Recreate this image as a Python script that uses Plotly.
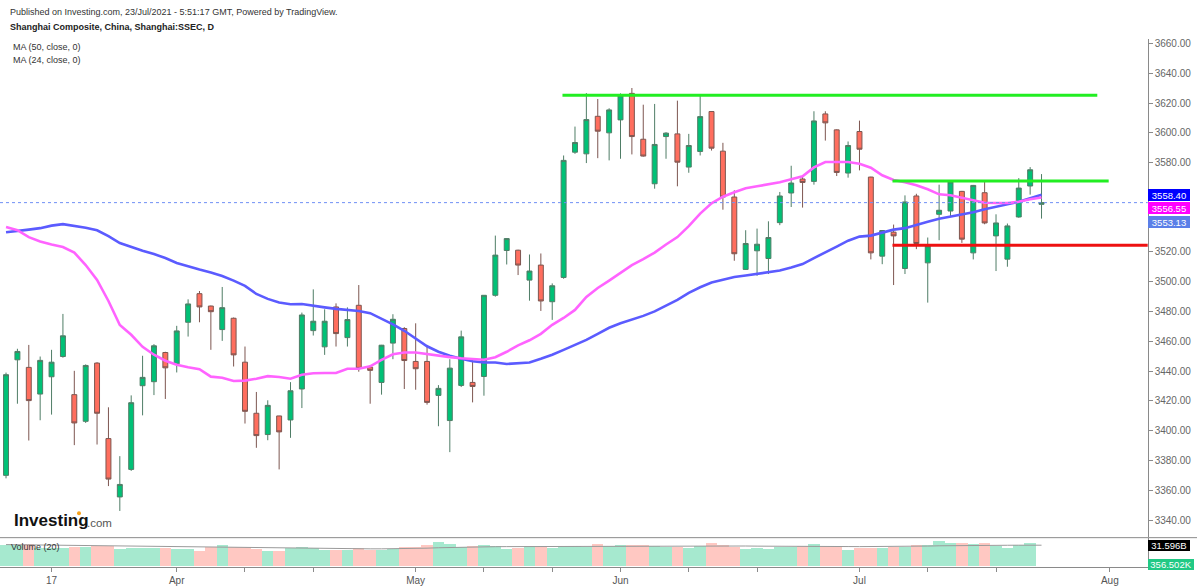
import plotly.graph_objects as go

# ==================================================
# Data (daily bars 11 Mar -> 23 Jul 2021)
# ==================================================

opens = [
    3370.0, 3447.6, 3442.5, 3424.6, 3436.2, 3449.8, 3424.2, 3406.3, 3445.4, 3394.7,
    3355.5, 3374.0, 3430.2, 3432.9, 3452.5, 3444.9, 3472.8, 3492.0, 3483.7, 3467.9,
    3475.5, 3446.0, 3411.7, 3397.4, 3409.9, 3407.2, 3428.0, 3467.2, 3456.3, 3483.1,
    3462.5, 3484.2, 3442.7, 3432.4, 3458.8, 3468.6, 3446.5, 3446.5, 3423.7, 3406.8,
    3430.4, 3432.4, 3436.4, 3490.9, 3521.0, 3521.2, 3501.1, 3511.2, 3486.6, 3502.9,
    3587.0, 3585.9, 3611.1, 3600.0, 3608.7, 3626.5, 3595.7, 3565.8, 3597.5, 3599.3,
    3577.0, 3587.5, 3614.3, 3587.7, 3556.9, 3508.3, 3520.8, 3515.6, 3539.7, 3559.6,
    3569.0, 3567.4, 3612.7, 3602.0, 3573.0, 3600.9, 3570.3, 3517.2, 3533.3, 3508.9,
    3557.6, 3512.7, 3545.3, 3547.5, 3560.7, 3519.4, 3559.8, 3530.8, 3515.2, 3543.5,
    3564.3, 3552.0,
]
highs = [
    3439.0, 3455.0, 3457.6, 3449.8, 3454.3, 3478.4, 3440.2, 3444.5, 3446.0, 3415.7,
    3382.9, 3423.7, 3450.3, 3458.1, 3453.0, 3470.4, 3488.2, 3493.8, 3484.0, 3496.5,
    3476.0, 3456.5, 3426.0, 3420.4, 3410.0, 3432.6, 3479.3, 3494.9, 3481.5, 3485.5,
    3482.8, 3497.8, 3443.0, 3457.6, 3478.2, 3469.5, 3472.1, 3457.6, 3430.6, 3448.0,
    3467.2, 3448.0, 3491.0, 3531.0, 3529.2, 3521.5, 3518.3, 3519.0, 3498.9, 3584.8,
    3604.2, 3626.7, 3622.7, 3616.5, 3626.5, 3630.1, 3618.9, 3619.4, 3600.4, 3621.6,
    3599.3, 3625.0, 3614.5, 3593.3, 3561.4, 3534.6, 3535.7, 3540.6, 3560.3, 3577.9,
    3570.7, 3614.5, 3614.5, 3602.3, 3594.2, 3608.2, 3570.5, 3534.5, 3538.4, 3558.0,
    3559.1, 3529.7, 3565.2, 3568.1, 3561.0, 3565.0, 3567.0, 3545.3, 3539.1, 3569.6,
    3577.0, 3572.3,
]
lows = [
    3368.0, 3418.1, 3393.4, 3407.0, 3410.8, 3449.0, 3390.3, 3405.2, 3390.7, 3362.8,
    3346.1, 3373.0, 3410.3, 3423.9, 3421.3, 3439.1, 3463.2, 3472.8, 3454.3, 3460.3,
    3443.1, 3404.8, 3388.5, 3393.6, 3374.0, 3395.2, 3415.2, 3463.9, 3450.9, 3456.5,
    3456.5, 3439.6, 3418.1, 3424.2, 3448.0, 3428.0, 3427.5, 3417.5, 3403.0, 3385.6,
    3429.3, 3419.0, 3423.5, 3490.0, 3511.6, 3504.5, 3487.3, 3480.4, 3474.4, 3502.0,
    3585.9, 3579.7, 3583.0, 3581.5, 3582.6, 3585.5, 3584.0, 3562.5, 3582.6, 3564.1,
    3573.2, 3584.8, 3588.1, 3548.4, 3514.1, 3508.0, 3504.0, 3505.2, 3538.0, 3550.2,
    3549.8, 3565.2, 3594.8, 3571.0, 3569.9, 3574.8, 3515.0, 3511.8, 3497.8, 3505.2,
    3521.9, 3486.0, 3527.9, 3543.5, 3526.1, 3515.0, 3538.6, 3507.2, 3510.1, 3543.0,
    3558.5, 3542.4,
]
closes = [
    3437.6, 3453.2, 3420.2, 3447.2, 3446.0, 3463.7, 3405.2, 3443.8, 3411.7, 3367.5,
    3363.9, 3418.8, 3435.8, 3457.0, 3442.2, 3467.0, 3485.1, 3483.1, 3479.9, 3482.6,
    3450.9, 3413.0, 3396.7, 3417.0, 3399.2, 3426.8, 3477.7, 3473.5, 3473.5, 3465.2,
    3474.6, 3441.8, 3440.5, 3457.4, 3474.8, 3447.1, 3441.6, 3419.0, 3428.4, 3442.0,
    3463.0, 3429.7, 3490.9, 3517.9, 3529.0, 3511.2, 3507.2, 3487.1, 3497.3, 3581.5,
    3593.5, 3608.9, 3601.1, 3615.4, 3625.0, 3597.5, 3584.4, 3592.2, 3599.8, 3580.3,
    3591.5, 3610.9, 3589.7, 3556.9, 3518.8, 3525.7, 3525.2, 3529.7, 3557.6, 3566.3,
    3566.7, 3608.0, 3606.7, 3573.4, 3591.5, 3589.0, 3519.4, 3534.4, 3530.8, 3553.6,
    3525.7, 3524.1, 3548.0, 3567.0, 3528.6, 3564.7, 3539.5, 3539.5, 3537.5, 3562.9,
    3575.2, 3553.13,
]

ma50 = [
    3533.3, 3534.0, 3535.0, 3536.0, 3537.7, 3538.7, 3537.7, 3536.3, 3534.6, 3530.6,
    3526.0, 3523.3, 3520.9, 3518.6, 3515.9, 3512.6, 3510.2, 3508.2, 3506.2, 3503.9,
    3500.8, 3497.2, 3491.8, 3488.5, 3486.1, 3484.9, 3485.1, 3483.8, 3482.8, 3481.8,
    3481.1, 3480.4, 3478.9, 3475.4, 3471.4, 3467.1, 3461.7, 3456.7, 3453.0, 3450.3,
    3448.3, 3446.6, 3445.8, 3445.8, 3444.8, 3445.3, 3445.8, 3448.3, 3451.0, 3454.3,
    3457.7, 3461.0, 3465.0, 3469.1, 3472.1, 3474.4, 3477.1, 3480.1, 3484.1, 3487.8,
    3492.5, 3496.3, 3499.5, 3501.5, 3503.2, 3504.2, 3505.2, 3506.2, 3507.5, 3509.5,
    3511.9, 3515.9, 3519.6, 3523.6, 3527.6, 3530.3, 3531.0, 3533.0, 3535.0, 3536.0,
    3538.3, 3540.3, 3542.3, 3543.7, 3545.4, 3546.7, 3548.7, 3550.4, 3551.7, 3553.7,
    3556.1, 3558.40,
]
ma24 = [
    3536.7, 3534.6, 3530.0, 3527.0, 3525.0, 3523.3, 3519.6, 3511.2, 3501.2, 3487.1,
    3471.0, 3464.4, 3456.3, 3451.0, 3447.0, 3444.3, 3442.6, 3441.3, 3436.3, 3435.6,
    3433.4, 3433.6, 3434.9, 3436.6, 3436.0, 3434.9, 3437.6, 3438.6, 3438.7, 3438.7,
    3441.6, 3441.6, 3443.2, 3447.6, 3451.3, 3452.5, 3452.5, 3451.3, 3450.3, 3449.4,
    3448.6, 3448.0, 3447.6, 3449.3, 3453.0, 3457.3, 3460.7, 3465.0, 3471.1, 3475.7,
    3481.1, 3489.8, 3495.8, 3500.8, 3505.9, 3511.2, 3515.2, 3519.6, 3525.0, 3530.0,
    3537.3, 3545.8, 3552.7, 3557.1, 3560.1, 3562.8, 3564.1, 3565.4, 3566.8, 3568.8,
    3570.8, 3576.8, 3580.4, 3580.4, 3580.4, 3579.2, 3576.6, 3571.5, 3568.4, 3566.8,
    3564.8, 3562.1, 3558.7, 3558.1, 3556.4, 3554.3, 3553.1, 3552.9, 3552.9, 3553.7,
    3555.4, 3556.55,
]

# volume in billions
volume = [
    31.5, 31.5, 33.0, 26.5, 26.5, 26.5, 29.0, 29.0, 30.5, 30.5,
    25.5, 26.5, 26.5, 26.5, 26.5, 25.5, 25.5, 23.0, 28.0, 31.5,
    29.0, 29.0, 25.5, 23.0, 23.0, 26.5, 29.0, 26.5, 24.5, 24.5,
    24.5, 26.5, 24.5, 24.5, 25.5, 28.0, 28.0, 32.0, 35.5, 33.0,
    28.0, 29.5, 31.5, 30.5, 25.5, 26.5, 29.5, 28.0, 26.5, 30.5,
    30.5, 29.0, 33.0, 30.5, 32.0, 32.0, 32.0, 30.5, 29.0, 29.0,
    26.5, 29.5, 34.0, 32.0, 29.0, 25.5, 26.5, 25.5, 29.0, 29.0,
    30.5, 33.0, 29.5, 29.5, 24.5, 27.0, 27.0, 26.5, 29.0, 29.0,
    32.0, 32.0, 37.0, 34.0, 34.0, 33.0, 34.0, 30.5, 26.5, 31.5,
    34.5, 0.000356502,
]
vol_ma20 = [
    32.5, 32.3, 32.0, 31.8, 31.5, 31.2, 31.0, 30.8, 30.5, 30.3,
    30.0, 29.8, 29.5, 29.3, 29.0, 28.8, 28.5, 28.2, 28.0, 27.8,
    27.6, 27.5, 27.3, 27.0, 26.8, 26.6, 26.5, 26.5, 26.4, 26.3,
    26.3, 26.3, 26.2, 26.2, 26.3, 26.5, 26.8, 27.2, 27.8, 28.3,
    28.6, 28.9, 29.2, 29.4, 29.5, 29.6, 29.8, 29.9, 29.9, 30.0,
    30.1, 30.2, 30.3, 30.4, 30.5, 30.6, 30.7, 30.7, 30.7, 30.6,
    30.5, 30.5, 30.6, 30.7, 30.6, 30.4, 30.2, 30.0, 29.8, 29.7,
    29.7, 29.8, 29.8, 29.7, 29.6, 29.5, 29.5, 29.5, 29.6, 29.7,
    30.0, 30.3, 30.7, 31.0, 31.2, 31.4, 31.5, 31.5, 31.5, 31.6,
    31.6, 31.596,
]

# drawn levels: price, first bar, last bar
level_prices = [3625.2, 3567.6, 3524.6]
level_start = [48.9, 77.9, 77.9]
level_end = [95.9, 96.9, 100.5]
level_colors = ["#22ee22", "#22ee22", "#ee1111"]

# price ticks (3540 / 3560 are hidden behind the value tags)
price_ticks = [3340, 3360, 3380, 3400, 3420, 3440, 3460, 3480, 3500, 3520,
               3580, 3600, 3620, 3640, 3660]

tick_idx = [4, 15, 21, 27, 36, 42, 48, 54, 60, 66, 75, 81, 87, 97]
tick_text = ["17", "Apr", "", "", "May", "", "", "Jun", "", "", "Jul", "", "", "Aug"]

bars = list(range(len(closes)))

W, H = 1200, 586


def px(x):
    return x / W


def py(y):
    return 1 - y / H


fig = go.Figure()

# ==================================================
# Candles
# ==================================================

fig.add_trace(
    go.Candlestick(
        x=bars,
        open=opens,
        high=highs,
        low=lows,
        close=closes,
        increasing=dict(fillcolor="#00c176", line=dict(color="#4f7d66", width=1)),
        decreasing=dict(fillcolor="#ff6e5e", line=dict(color="#7d5650", width=1)),
        whiskerwidth=0,
        xaxis="x",
        yaxis="y",
        hoverinfo="skip",
    )
)

fig.add_trace(
    go.Scatter(x=bars, y=ma50, mode="lines",
               line=dict(color="#5b5bff", width=2.6), xaxis="x", yaxis="y")
)
fig.add_trace(
    go.Scatter(x=bars, y=ma24, mode="lines",
               line=dict(color="#ff63ff", width=2.6), xaxis="x", yaxis="y")
)

# ==================================================
# Levels
# ==================================================

for p, s, e, c in zip(level_prices, level_start, level_end, level_colors):
    fig.add_trace(
        go.Scatter(x=[s, e], y=[p, p], mode="lines",
                   line=dict(color=c, width=3), xaxis="x", yaxis="y")
    )

# ==================================================
# Volume
# ==================================================

vol_colors = [
    "rgba(0,193,118,0.35)" if c >= o else "rgba(255,110,94,0.38)"
    for o, c in zip(opens, closes)
]

fig.add_trace(
    go.Bar(x=bars, y=volume, marker=dict(color=vol_colors, line=dict(width=0)),
           xaxis="x2", yaxis="y2")
)
fig.add_trace(
    go.Scatter(x=bars, y=vol_ma20, mode="lines",
               line=dict(color="#9a9a9a", width=1), xaxis="x2", yaxis="y2")
)

# ==================================================
# Layout
# ==================================================

x_end = px(1147.7)
x_range = [-0.53, 100.33]

fig.update_layout(
    width=W,
    height=H,
    margin=dict(l=0, r=0, t=0, b=0),
    paper_bgcolor="white",
    plot_bgcolor="white",
    showlegend=False,
    bargap=0,
    boxgap=0.38,
    font=dict(family="Liberation Sans, Arial, sans-serif", color="#444"),
    xaxis=dict(
        domain=[0, x_end], range=x_range, showgrid=False, zeroline=False,
        showticklabels=False, rangeslider=dict(visible=False), anchor="y",
    ),
    yaxis=dict(
        domain=[py(538), py(38)], range=[3328.5, 3663.1], side="right",
        anchor="x", showgrid=False, zeroline=False, showline=True,
        linecolor="#8a8a8a", linewidth=1, ticks="outside", ticklen=4,
        tickcolor="#8a8a8a", tickvals=price_ticks, tickformat=".2f",
        tickfont=dict(size=10, color="#666"),
    ),
    xaxis2=dict(
        domain=[0, x_end], range=x_range, matches="x", anchor="y2",
        showgrid=False, zeroline=False, showline=True, linecolor="#8a8a8a",
        ticks="outside", ticklen=4, tickcolor="#8a8a8a",
        tickvals=tick_idx, ticktext=tick_text,
        tickfont=dict(size=10, color="#555"),
    ),
    yaxis2=dict(
        domain=[py(567.5), py(539)], range=[0, 42], side="right",
        anchor="x2", showgrid=False, zeroline=False, showline=True,
        linecolor="#8a8a8a", showticklabels=False, ticks="",
    ),
)

# pane separator
fig.add_shape(type="line", xref="paper", yref="paper",
              x0=0, x1=px(1197), y0=py(538.5), y1=py(538.5),
              line=dict(color="#8a8a8a", width=1))

# last price line
fig.add_shape(type="line", xref="paper", yref="y",
              x0=0, x1=x_end, y0=closes[-1], y1=closes[-1],
              line=dict(color="#6f8ff5", width=1, dash="dot"))

# ==================================================
# Texts
# ==================================================

def label(x, y, text, size=9, color="#333", **kw):
    fig.add_annotation(x=px(x), y=py(y), xref="paper", yref="paper",
                       text=text, showarrow=False, xanchor="left",
                       yanchor="middle", font=dict(size=size, color=color), **kw)


label(8, 11, "Published on Investing.com, 23/Jul/2021 - 5:51:17 GMT, Powered by TradingView.")
label(8, 26, "<b>Shanghai Composite, China, Shanghai:SSEC, D</b>", color="#222")
label(11, 46, "MA (50, close, 0)")
label(11, 59, "MA (24, close, 0)")
label(9, 548, "Volume (20)")

label(12, 521, "<b>Investing</b>", size=17, color="#111")
label(85, 524, ".com", size=11.5, color="#555")
fig.add_shape(type="circle", xref="paper", yref="paper",
              x0=px(77), x1=px(81), y0=py(516), y1=py(512),
              fillcolor="#f7a21b", line=dict(width=0))

# right side value labels, stacked under each other
price_tags = [
    (ma50[-1], "#0000ff", 0),
    (ma24[-1], "#ff00ff", -10),
    (closes[-1], "#5b7fe8", -19),
]
for val, col, shift in price_tags:
    fig.add_annotation(x=px(1147.5), y=val, xref="paper", yref="y",
                       text="%.2f" % val, showarrow=False, xanchor="left",
                       yanchor="middle", yshift=shift, bgcolor=col,
                       borderpad=0, borderwidth=0, width=42, height=12,
                       font=dict(size=9.5, color="white"))

fig.add_annotation(x=px(1147.5), y=vol_ma20[-1], xref="paper", yref="y2",
                   text="%.3fB" % vol_ma20[-1], showarrow=False,
                   xanchor="left", yanchor="middle", bgcolor="#000000",
                   borderpad=0, borderwidth=0, width=42, height=11,
                   font=dict(size=9.5, color="white"))
fig.add_annotation(x=px(1147.5), y=py(565), xref="paper", yref="paper",
                   text="%.3fK" % (volume[-1] * 1e6), showarrow=False,
                   xanchor="left", yanchor="middle", bgcolor="#22c985",
                   borderpad=0, borderwidth=0, width=46, height=11,
                   font=dict(size=9.5, color="white"))

fig.write_html("out.html", config={"displayModeBar": False},
               post_script="document.body.style.margin='0';")
